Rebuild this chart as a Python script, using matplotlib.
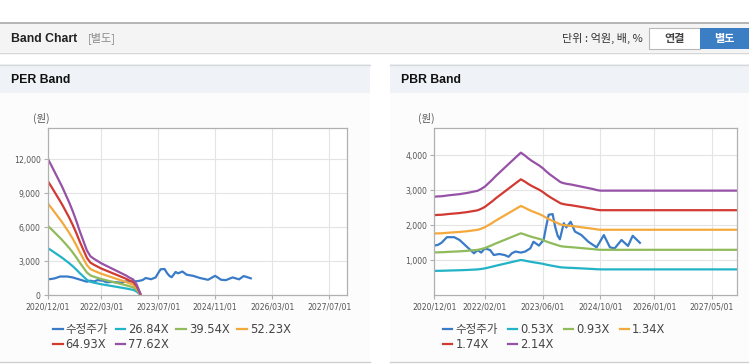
"""
Band chart (PER / PBR) recreation
"""

import matplotlib.pyplot as plt
from matplotlib.patches import Rectangle
from matplotlib.ticker import FuncFormatter

plt.rcParams['font.family'] = ['DejaVu Sans', 'Noto Sans CJK KR']

W, H = 749, 364

# x values are months since 2020/12/01
price_month = [0, 1, 2, 3.5, 5.5, 7, 9, 11, 12, 13, 14, 15.5, 16.5, 18, 19.5, 20.6,
               21.5, 22.5, 24, 25.2, 26.6, 27.5, 29, 30.3, 31, 31.7, 32.8, 33.5,
               34.2, 34.8, 35.9, 36.6, 37.8, 39, 40.8, 42.7, 45, 47, 48.7, 50,
               51.9, 53.7, 55, 57]
price = [1420, 1440, 1500, 1660, 1660, 1580, 1390, 1200, 1290, 1220, 1340, 1290,
         1150, 1180, 1150, 1100, 1200, 1250, 1220, 1250, 1340, 1530, 1420, 1580,
         1960, 2300, 2320, 1960, 1700, 1600, 2060, 1940, 2100, 1820, 1720, 1530,
         1370, 1720, 1370, 1340, 1580, 1410, 1700, 1500]

# per-share earnings used for the PER band
eps_month = list(range(27))
eps = [155.6, 148, 140, 132, 124, 115, 106, 96, 85, 73, 62, 51, 44.4, 41.5, 39,
       36.5, 34.5, 32.5, 30.5, 28.5, 26.5, 24.5, 22.5, 20, 18, 12, 2]
per_mult = [26.84, 39.54, 52.23, 64.93, 77.62]

# per-share book value used for the PBR band
bps_month = list(range(47)) + [84]
bps = [1316, 1320, 1322, 1328, 1335, 1340, 1345, 1350, 1358, 1365, 1375, 1385,
       1395, 1420, 1450, 1495, 1540, 1590, 1635, 1680, 1725, 1770, 1815, 1860,
       1904, 1870, 1830, 1795, 1765, 1735, 1700, 1655, 1615, 1580, 1545, 1510,
       1495, 1485, 1478, 1468, 1458, 1448, 1438, 1428, 1418, 1405, 1397, 1397]
pbr_mult = [0.53, 0.93, 1.34, 1.74, 2.14]

per_ticks = [0, 15, 31, 47, 63, 79]
per_ticklabels = ['2020/12/01', '2022/03/01', '2023/07/01', '2024/11/01',
                  '2026/03/01', '2027/07/01']
pbr_ticks = [0, 14, 30, 46, 61, 77]
pbr_ticklabels = ['2020/12/01', '2022/02/01', '2023/06/01', '2024/10/01',
                  '2026/01/01', '2027/05/01']
per_yticks = [0, 3000, 6000, 9000, 12000]
pbr_yticks = [1000, 2000, 3000, 4000]

price_color = '#3a7bc8'
band_colors = ['#22b3c6', '#8fbb5b', '#f4a93c', '#d13a33', '#9652a6']

fig = plt.figure(figsize=(W / 100, H / 100), dpi=100)
fig.patch.set_facecolor('white')


def rect(x0, y0, x1, y1, fc, ec='none', lw=0):
    fig.add_artist(Rectangle((x0 / W, 1 - y1 / H), (x1 - x0) / W, (y1 - y0) / H,
                             transform=fig.transFigure, facecolor=fc,
                             edgecolor=ec, linewidth=lw, zorder=0))


def hline(y, x0, x1, color, lw=1):
    fig.add_artist(plt.Line2D([x0 / W, x1 / W], [1 - y / H, 1 - y / H],
                              transform=fig.transFigure, color=color, lw=lw))


def text(x, y, s, **kw):
    fig.text(x / W, 1 - y / H, s, **kw)


# top header bar
rect(0, 23, W, 52, '#f4f4f4')
hline(22.5, 0, W, '#a8a8a8', 1.2)
hline(52.5, 0, W, '#d6d6d6', 1.0)
text(11, 38.5, 'Band Chart', fontsize=8.8, fontweight='bold', family='Liberation Sans',
     color='#222222', va='center')
text(88, 38.5, '[별도]', fontsize=8, color='#8a8a8a', va='center',
     family=['Noto Sans CJK KR', 'DejaVu Sans'])
text(643, 38.5, '단위 : 억원, 배, %', fontsize=8, color='#333333', va='center',
     ha='right', family=['Noto Sans CJK KR', 'DejaVu Sans'])
rect(649, 28, 700, 49, 'white', '#b8b8b8', 0.8)
text(674.5, 38.5, '연결', fontsize=8, color='#444444', va='center', ha='center',
     fontweight='bold', family=['Noto Sans CJK KR', 'DejaVu Sans'])
rect(700, 28, 749, 49, '#3b7ec4')
text(724.5, 38.5, '별도', fontsize=8, color='white', va='center', ha='center',
     fontweight='bold', family=['Noto Sans CJK KR', 'DejaVu Sans'])

# panels
for x0, x1, title in [(0, 370, 'PER Band'), (390, W, 'PBR Band')]:
    rect(x0, 93, x1, 362, '#fcfcfc')
    rect(x0, 64, x1, 93, '#eff3f8')
    hline(64.5, x0, x1, '#d8d8d8', 1.0)
    hline(362, x0, x1, '#d0d0d0', 1.0)
    text(x0 + 11, 80, title, fontsize=8.8, fontweight='bold', family='Liberation Sans',
         color='#111111', va='center')


def band_axes(box, base_x, base, mult, ticks, ticklabels, yticks, ymax, unit_x,
              leg_x, colsp):
    ax = fig.add_axes([box[0] / W, 1 - box[3] / H, (box[2] - box[0]) / W,
                       (box[3] - box[1]) / H])
    ax.set_facecolor('white')
    ax.plot(price_month, price, color=price_color, lw=1.6, label='수정주가')
    for m, c in zip(mult, band_colors):
        ax.plot(base_x, [m * b for b in base], color=c, lw=1.6, label=f'{m:.2f}X')
    ax.set_xlim(0, 84)
    ax.set_ylim(0, ymax)
    ax.set_xticks(ticks)
    ax.set_xticklabels(ticklabels)
    ax.set_yticks(yticks)
    ax.yaxis.set_major_formatter(FuncFormatter(lambda v, p: f'{v:,.0f}'))
    ax.grid(True, color='#e4e4e4', lw=0.8)
    ax.set_axisbelow(True)
    for s in ax.spines.values():
        s.set_color('#b0b0b0')
        s.set_linewidth(0.9)
    ax.tick_params(labelsize=5.6, labelcolor='#555555', color='#b0b0b0',
                   length=3, width=0.8, pad=2)
    text(unit_x, 118, '(원)', fontsize=7.5, color='#555555', va='center',
         family=['Noto Sans CJK KR', 'DejaVu Sans'])
    # legend fills column by column, so reorder to read row by row
    handles, labels = ax.get_legend_handles_labels()
    order = [0, 4, 1, 5, 2, 3]
    ax.legend([handles[i] for i in order], [labels[i] for i in order],
              loc='upper left', bbox_to_anchor=(leg_x / W, 1 - 323 / H),
              bbox_transform=fig.transFigure, ncol=4, frameon=False,
              fontsize=8.3, handlelength=0.85, handletextpad=0.25,
              columnspacing=colsp, labelspacing=0.15, borderpad=0,
              borderaxespad=0, labelcolor='#444444')
    return ax


band_axes((47.7, 128, 347, 295.3), eps_month, eps, per_mult, per_ticks,
          per_ticklabels, per_yticks, 14780, 33, 53, 0.64)
band_axes((434.3, 128.3, 737.3, 295.3), bps_month, bps, pbr_mult, pbr_ticks,
          pbr_ticklabels, pbr_yticks, 4770, 418, 442.7, 0.85)

fig.savefig('out.png', dpi=100)
